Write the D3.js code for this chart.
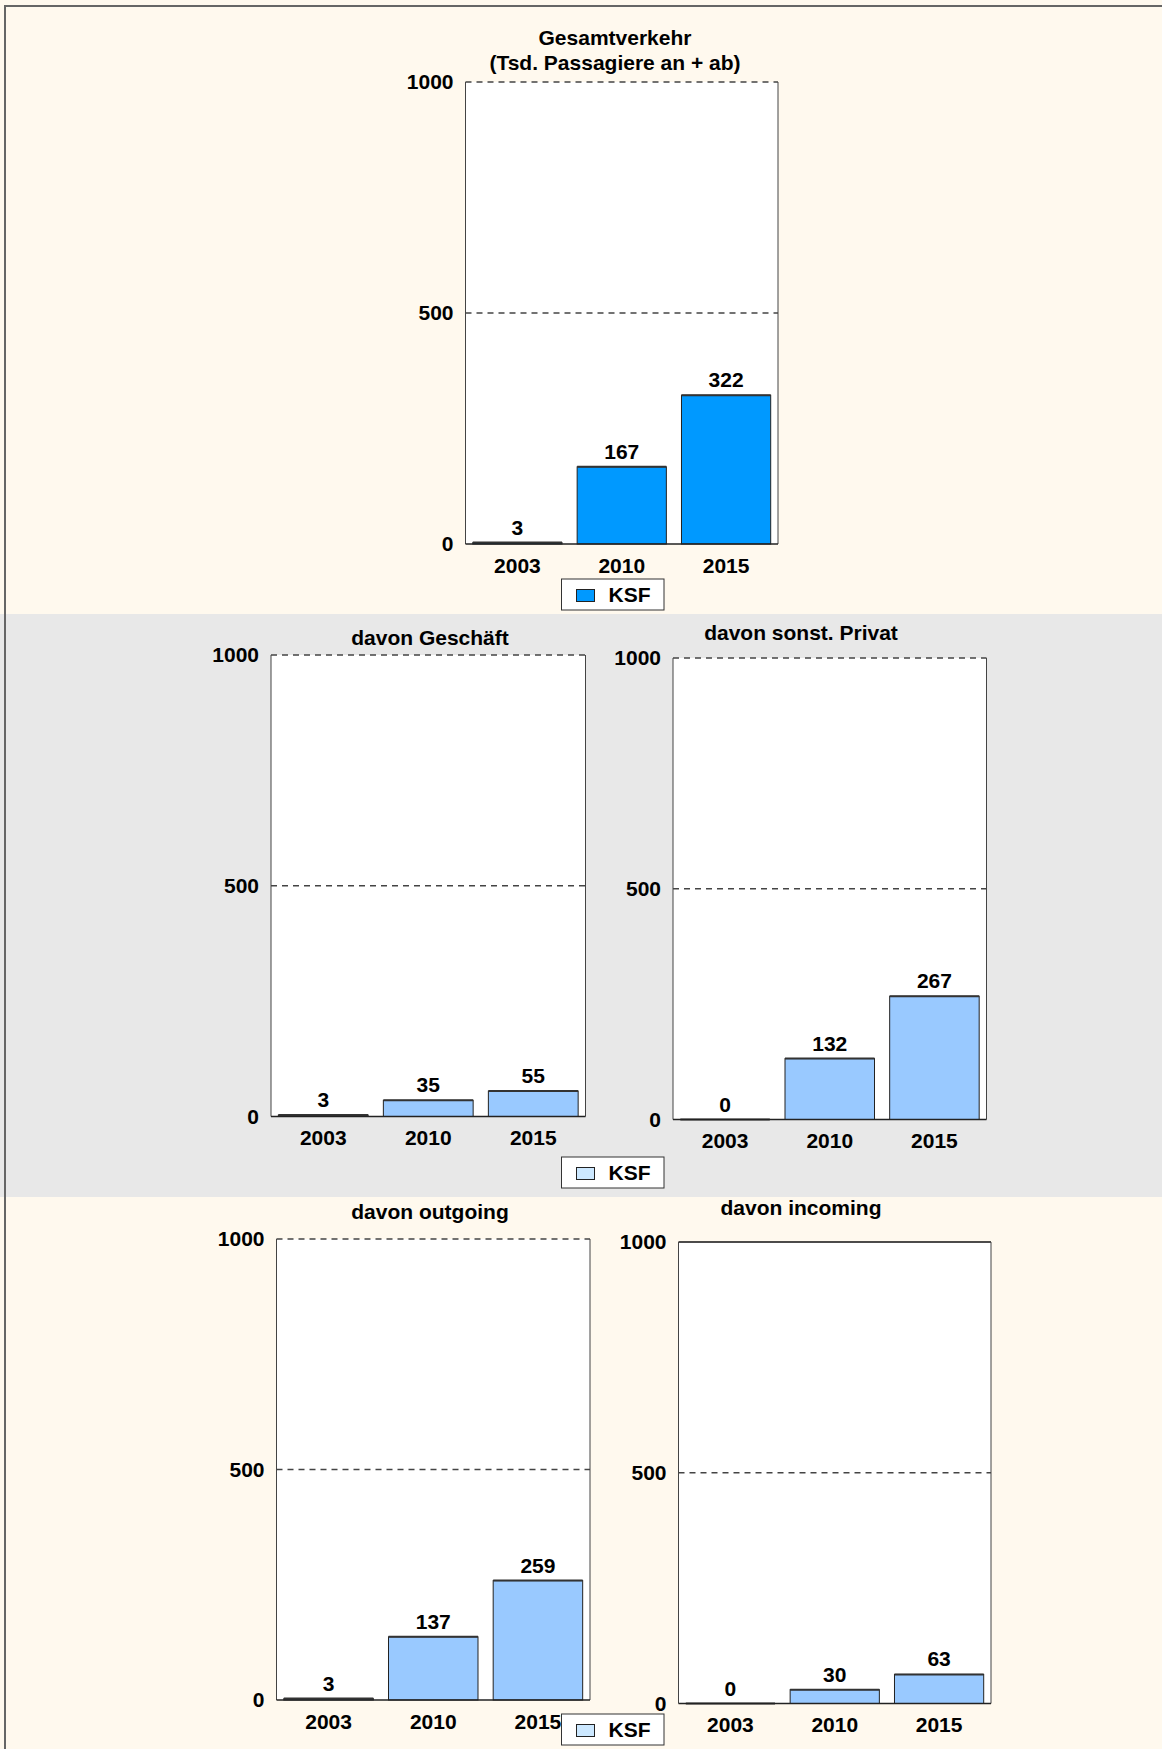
<!DOCTYPE html>
<html>
<head>
<meta charset="utf-8">
<script src="https://cdn.jsdelivr.net/npm/d3@7"></script>
<style>
    html, body { margin: 0; padding: 0; background: #fff; }
    svg text { font-family: "Liberation Sans", Arial, sans-serif; font-weight: bold; fill: #000; }
</style>
</head>
<body>
<div id="container"></div>
<script>
"use strict"

/* DATA
 */
const years = ["2003", "2010", "2015"];
const gesamt = [3, 167, 322];
const geschaeft = [3, 35, 55];
const privat = [0, 132, 267];
const outgoing = [3, 137, 259];
const incoming = [0, 30, 63];
const yTicks = [0, 500, 1000];
const legendLabel = "KSF";

/* LAYOUT
 */
const W = 1162, H = 1749;
const FONT = "21px";

const bands = [
    { y0: 0, y1: 614, fill: "#fff9ee" },
    { y0: 614, y1: 1197, fill: "#e8e8e8" },
    { y0: 1197, y1: H, fill: "#fff9ee" }
];

const panels = [
    { title: ["Gesamtverkehr", "(Tsd. Passagiere an + ab)"], values: gesamt, color: "#0099ff",
      x0: 465.5, x1: 778, top: 82, bottom: 544, tx: 615, ty: 45 },
    { title: ["davon Geschäft"], values: geschaeft, color: "#99c9ff",
      x0: 271, x1: 585.5, top: 655, bottom: 1116.5, tx: 430, ty: 645 },
    { title: ["davon sonst. Privat"], values: privat, color: "#99c9ff",
      x0: 673, x1: 986.5, top: 658, bottom: 1119.5, tx: 801, ty: 640 },
    { title: ["davon outgoing"], values: outgoing, color: "#99c9ff",
      x0: 276.5, x1: 590, top: 1239, bottom: 1700, tx: 430, ty: 1218.5 },
    { title: ["davon incoming"], values: incoming, color: "#99c9ff",
      x0: 678.5, x1: 991, top: 1242, bottom: 1703.5, tx: 801, ty: 1215, solidTop: true }
];

const legends = [
    { x: 561.5, y: 579, swatch: "#0099ff" },
    { x: 561.5, y: 1157, swatch: "#cce8ff" },
    { x: 561.5, y: 1714, swatch: "#cce8ff" }
];

const svg = d3.select("#container").append("svg")
    .attr("width", W)
    .attr("height", H);

svg.selectAll("rect.band")
    .data(bands)
    .enter().append("rect")
    .attr("class", "band")
    .attr("x", 0)
    .attr("y", (d) => d.y0)
    .attr("width", W)
    .attr("height", (d) => d.y1 - d.y0)
    .attr("fill", (d) => d.fill);

// outer frame (only top + left visible)
svg.append("path")
    .attr("d", `M5,${H} L5,6 L${W},6`)
    .attr("fill", "none")
    .attr("stroke", "#666")
    .attr("stroke-width", 2);

/* PANELS
 */
function drawPanel(p) {
    const g = svg.append("g");

    const x = d3.scaleBand()
        .domain(years)
        .range([p.x0, p.x1])
        .paddingInner(0.145)
        .paddingOuter(0.07);

    const y = d3.scaleLinear()
        .domain([0, 1000])
        .range([p.bottom, p.top]);

    // plot area
    g.append("rect")
        .attr("x", p.x0)
        .attr("y", p.top)
        .attr("width", p.x1 - p.x0)
        .attr("height", p.bottom - p.top)
        .attr("fill", "#fff");

    // dashed grid at 500 / 1000
    g.selectAll("line.grid")
        .data(yTicks.filter((t) => t > 0))
        .enter().append("line")
        .attr("class", "grid")
        .attr("x1", p.x0).attr("x2", p.x1)
        .attr("y1", (d) => y(d)).attr("y2", (d) => y(d))
        .attr("stroke", (d) => (d == 1000 && p.solidTop) ? "#111" : "#444")
        .attr("stroke-width", 1.3)
        .attr("stroke-dasharray", (d) => (d == 1000 && p.solidTop) ? null : "6,5");

    // side frame lines
    g.append("path")
        .attr("d", `M${p.x0},${p.top} L${p.x0},${p.bottom} M${p.x1},${p.top} L${p.x1},${p.bottom}`)
        .attr("stroke", "#444")
        .attr("stroke-width", 1)
        .attr("fill", "none");

    // bars
    const vals = years.map((yr, i) => ({ year: yr, value: p.values[i] }));
    g.selectAll("rect.bar")
        .data(vals)
        .enter().append("rect")
        .attr("class", "bar")
        .attr("x", (d) => x(d.year))
        .attr("y", (d) => y(d.value))
        .attr("width", x.bandwidth())
        .attr("height", (d) => y(0) - y(d.value))
        .attr("fill", (d) => p.color)
        .attr("stroke", "#222")
        .attr("stroke-width", 1);

    // bar top edges (darker)
    g.selectAll("line.bartop")
        .data(vals)
        .enter().append("line")
        .attr("class", "bartop")
        .attr("x1", (d) => x(d.year)).attr("x2", (d) => x(d.year) + x.bandwidth())
        .attr("y1", (d) => y(d.value)).attr("y2", (d) => y(d.value))
        .attr("stroke", "#333")
        .attr("stroke-width", 2);

    // zero line
    g.append("line")
        .attr("x1", p.x0).attr("x2", p.x1)
        .attr("y1", y(0)).attr("y2", y(0))
        .attr("stroke", "#222")
        .attr("stroke-width", 1.5);

    // value labels
    g.selectAll("text.val")
        .data(vals)
        .enter().append("text")
        .attr("class", "val")
        .attr("x", (d) => x(d.year) + x.bandwidth() / 2)
        .attr("y", (d) => y(d.value) - 8)
        .attr("text-anchor", "middle")
        .style("font-size", FONT)
        .text((d) => d.value);

    // y axis labels
    const yAxis = d3.axisLeft(y)
        .tickValues(yTicks)
        .tickFormat(d3.format("d"))
        .tickSize(0)
        .tickPadding(12);
    const ya = g.append("g")
        .attr("transform", `translate(${p.x0},0)`)
        .call(yAxis);
    ya.select(".domain").remove();
    ya.selectAll("text")
        .style("font-size", FONT)
        .style("font-family", "\"Liberation Sans\", Arial, sans-serif")
        .attr("fill", "#000");

    // x axis labels
    const xAxis = d3.axisBottom(x)
        .tickSize(0)
        .tickPadding(14);
    const xa = g.append("g")
        .attr("transform", `translate(0,${p.bottom})`)
        .call(xAxis);
    xa.select(".domain").remove();
    xa.selectAll("text")
        .style("font-size", FONT)
        .style("font-family", "\"Liberation Sans\", Arial, sans-serif")
        .attr("fill", "#000");

    // title
    g.selectAll("text.title")
        .data(p.title)
        .enter().append("text")
        .attr("class", "title")
        .attr("x", p.tx)
        .attr("y", (d, i) => p.ty + i * 25)
        .attr("text-anchor", "middle")
        .style("font-size", FONT)
        .text((d) => d);
}

panels.forEach(drawPanel);

/* LEGENDS
 */
legends.forEach((l) => {
    const g = svg.append("g").attr("transform", `translate(${l.x},${l.y})`);
    g.append("rect")
        .attr("width", 102.5).attr("height", 31)
        .attr("fill", "#fff")
        .attr("stroke", "#333")
        .attr("stroke-width", 1);
    g.append("rect")
        .attr("x", 15).attr("y", 10.5)
        .attr("width", 18).attr("height", 12)
        .attr("fill", l.swatch)
        .attr("stroke", "#222")
        .attr("stroke-width", 1);
    g.append("text")
        .attr("x", 47).attr("y", 23)
        .style("font-size", FONT)
        .text(legendLabel);
});
</script>
</body>
</html>
